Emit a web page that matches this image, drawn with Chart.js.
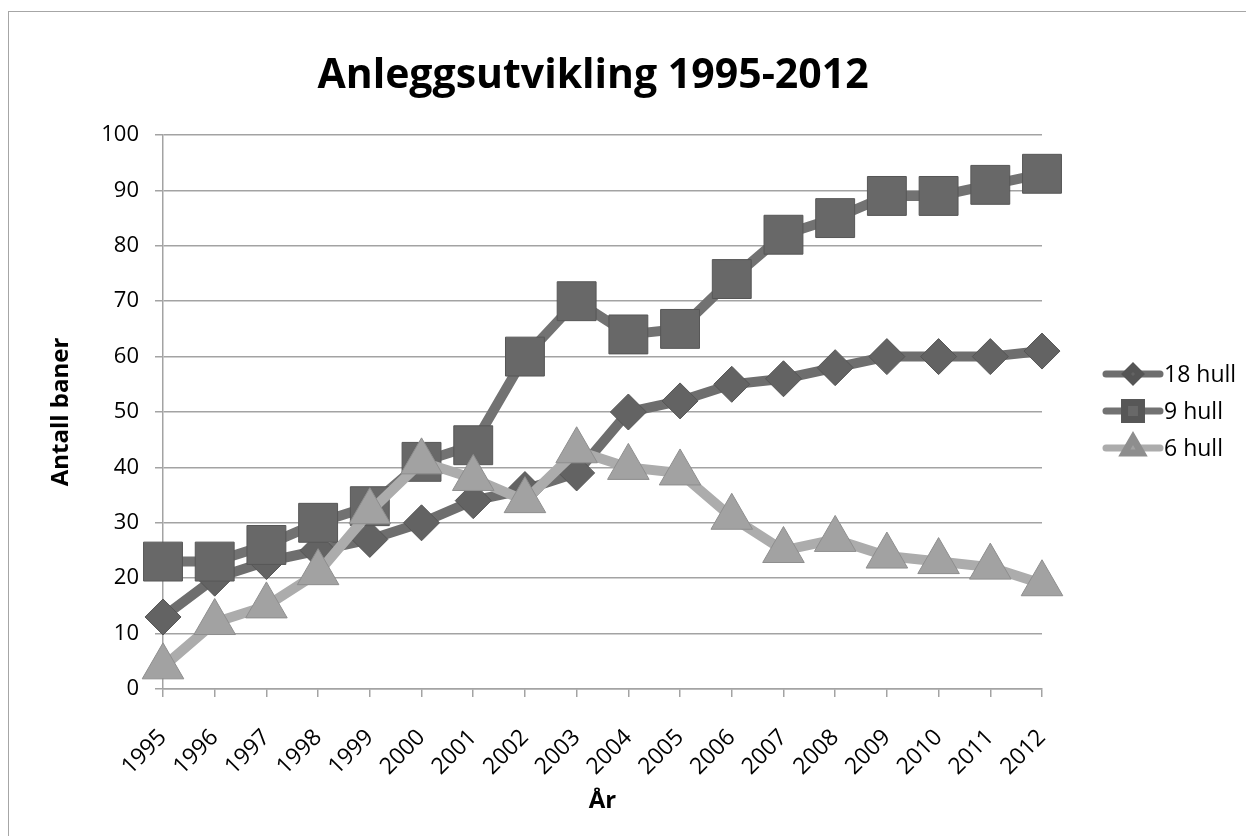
<!DOCTYPE html>
<html>
<head>
<meta charset="utf-8">
<script src="https://cdn.jsdelivr.net/npm/chart.js@4/dist/chart.umd.min.js"></script>
<style>
  html, body { margin: 0; padding: 0; background: #fff; }
  #wrap { position: relative; width: 1246px; height: 836px; overflow: hidden; }
  #frame { position: absolute; left: 8px; top: 11px; width: 1260px; height: 850px; border: 1.5px solid #a6a6a6; }
  #myChart { position: absolute; left: 0; top: 0; }
</style>
</head>
<body>
<div id="wrap">
  <div id="frame"></div>
  <canvas id="myChart" width="1246" height="836"></canvas>
</div>
<script>
// data
const years = ['1995', '1996', '1997', '1998', '1999', '2000', '2001', '2002', '2003',
               '2004', '2005', '2006', '2007', '2008', '2009', '2010', '2011', '2012'];
const hull18 = [13, 20, 23, 25, 27, 30, 34, 36, 39, 50, 52, 55, 56, 58, 60, 60, 60, 61];
const hull9  = [23, 23, 26, 30, 33, 41, 44, 60, 70, 64, 65, 74, 82, 85, 89, 89, 91, 93];
const hull6  = [4, 12, 15, 21, 32, 41, 38, 34, 43, 40, 39, 31, 25, 27, 24, 23, 22, 19];
const yTicks = [0, 10, 20, 30, 40, 50, 60, 70, 80, 90, 100];
const chartTitle = 'Anleggsutvikling 1995-2012';

const FONT = '"Open Sans", "Noto Sans", sans-serif';
const gridCol = '#a3a3a3';

// title sits over the whole figure, not only the plot
const titlePlugin = {
    id: 'xlTitle',
    afterDraw(chart) {
        const ctx = chart.ctx;
        ctx.save();
        ctx.fillStyle = '#000';
        ctx.font = 'bold 41px ' + FONT;
        ctx.textAlign = 'center';
        ctx.textBaseline = 'middle';
        ctx.fillText(chartTitle, 593, 76);
        ctx.restore();
    }
};

// legend like excel: line + marker + text
const legendPlugin = {
    id: 'xlLegend',
    afterDraw(chart) {
        const ctx = chart.ctx;
        const rows = [374, 411, 448];
        chart.data.datasets.forEach((ds, i) => {
            const y = rows[i];
            ctx.save();
            ctx.strokeStyle = ds.borderColor;
            ctx.lineWidth = 7;
            ctx.lineCap = 'round';
            ctx.beginPath();
            ctx.moveTo(1106, y);
            ctx.lineTo(1160, y);
            ctx.stroke();
            ctx.fillStyle = ds.pointBackgroundColor;
            ctx.strokeStyle = ds.pointBorderColor;
            Chart.helpers.drawPoint(ctx, {
                pointStyle: ds.pointStyle,
                radius: ds.legendRadius,
                borderWidth: 1
            }, 1133, y);
            ctx.restore();

            ctx.save();
            ctx.fillStyle = '#000';
            ctx.font = '23px ' + FONT;
            ctx.textBaseline = 'middle';
            ctx.textAlign = 'left';
            ctx.fillText(ds.label, 1164, y + 1);
            ctx.restore();
        });
    }
};

const ctx = document.getElementById('myChart').getContext('2d');
const myChart = new Chart(ctx, {
    type: 'line',
    data: {
        labels: years,
        datasets: [{
            label: '18 hull',
            data: hull18,
            borderColor: '#6e6e6e',
            borderWidth: 10,
            pointStyle: 'rectRot',
            pointRadius: 18,
            legendRadius: 7,
            pointBackgroundColor: '#636363',
            pointBorderColor: '#555555',
            pointBorderWidth: 1,
            order: 2,
            tension: 0
        }, {
            label: '9 hull',
            data: hull9,
            borderColor: '#727272',
            borderWidth: 10,
            pointStyle: 'rect',
            pointRadius: 27.5,
            legendRadius: 12,
            pointBackgroundColor: '#686868',
            pointBorderColor: '#575757',
            pointBorderWidth: 1,
            order: 1,
            tension: 0
        }, {
            label: '6 hull',
            data: hull6,
            borderColor: '#acacac',
            borderWidth: 10,
            pointStyle: 'triangle',
            pointRadius: 24,
            legendRadius: 10,
            pointBackgroundColor: '#a2a2a2',
            pointBorderColor: '#8e8e8e',
            pointBorderWidth: 1,
            order: 0,
            tension: 0
        }]
    },
    options: {
        responsive: false,
        animation: false,
        devicePixelRatio: 1,
        layout: { padding: { left: 20, right: 204, top: 135, bottom: 0 } },
        plugins: {
            legend: { display: false },
            tooltip: { enabled: false },
            title: { display: false }
        },
        scales: {
            x: {
                offset: false,
                grid: { display: true, drawOnChartArea: false, color: gridCol, lineWidth: 1.5, tickLength: 8 },
                border: { color: gridCol, width: 1.5 },
                ticks: {
                    color: '#000',
                    font: { family: FONT, size: 23 },
                    maxRotation: 45,
                    minRotation: 45,
                    padding: 27,
                    autoSkip: false
                },
                title: {
                    display: true,
                    text: 'År',
                    color: '#000',
                    font: { family: FONT, size: 24, weight: 'bold' },
                    padding: { top: 4, bottom: 20 }
                },
                afterFit(scale) { scale.height = 147; }
            },
            y: {
                min: 0,
                max: 100,
                afterBuildTicks(scale) { scale.ticks = yTicks.map(v => ({ value: v })); },
                grid: { color: gridCol, lineWidth: 1.5, tickLength: 8 },
                border: { color: gridCol, width: 1.5 },
                ticks: {
                    color: '#000',
                    font: { family: FONT, size: 22 },
                    padding: 16
                },
                title: {
                    display: true,
                    text: 'Antall baner',
                    color: '#000',
                    font: { family: FONT, size: 24, weight: 'bold' },
                    padding: { top: 27 }
                },
                afterFit(scale) { scale.width = 143; }
            }
        }
    },
    plugins: [titlePlugin, legendPlugin]
});
</script>
</body>
</html>
